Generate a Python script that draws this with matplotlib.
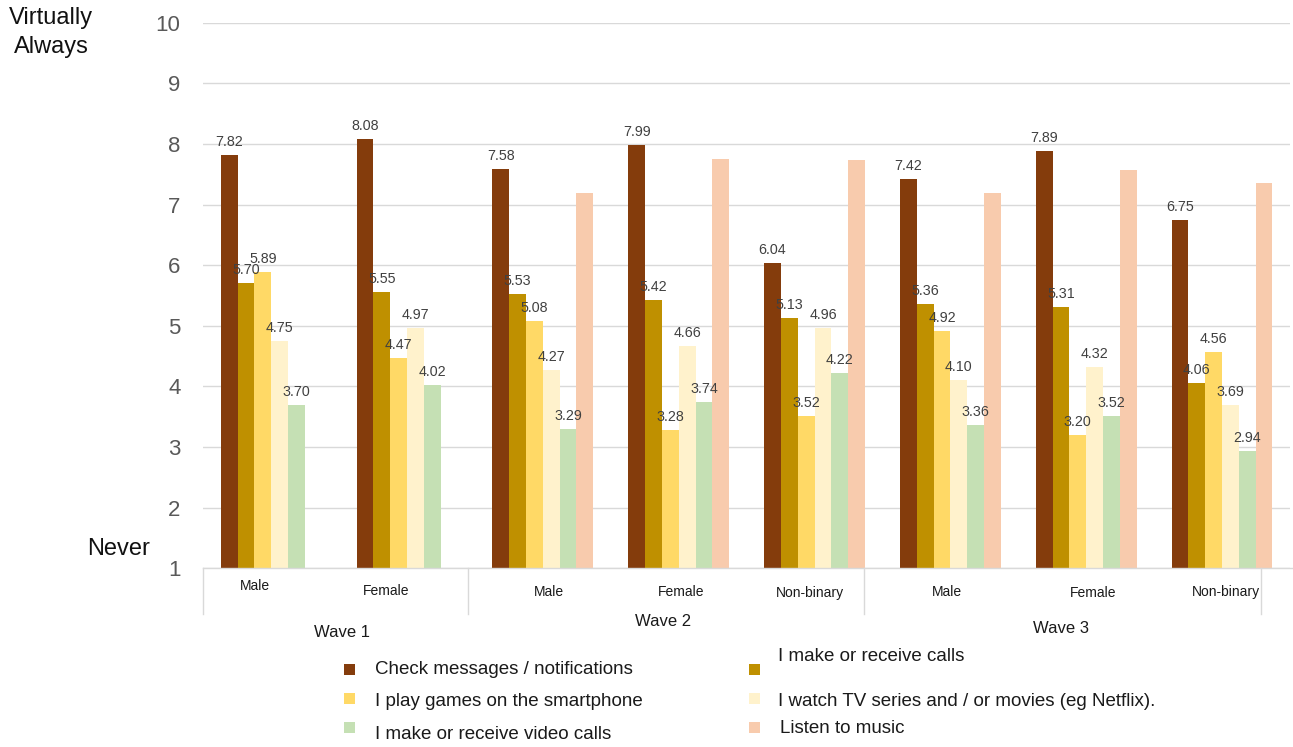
import numpy as np
import matplotlib
matplotlib.use('Agg')
import matplotlib.pyplot as plt
from matplotlib.patches import Rectangle
from matplotlib.lines import Line2D

plt.rcParams['font.family'] = ['Liberation Sans', 'DejaVu Sans']

# data
groups = ['Male', 'Female', 'Male', 'Female', 'Non-binary', 'Male', 'Female', 'Non-binary']
waves = ['Wave 1', 'Wave 2', 'Wave 3']
check_msgs = [7.82, 8.08, 7.58, 7.99, 6.04, 7.42, 7.89, 6.75]
calls = [5.70, 5.55, 5.53, 5.42, 5.13, 5.36, 5.31, 4.06]
games = [5.89, 4.47, 5.08, 3.28, 3.52, 4.92, 3.20, 4.56]
tv = [4.75, 4.97, 4.27, 4.66, 4.96, 4.10, 4.32, 3.69]
video_calls = [3.70, 4.02, 3.29, 3.74, 4.22, 3.36, 3.52, 2.94]
music = [np.nan, np.nan, 7.19, 7.75, 7.73, 7.19, 7.57, 7.36]

series_names = ['Check messages / notifications', 'I make or receive calls',
                'I play games on the smartphone', 'I watch TV series and / or movies (eg Netflix).',
                'I make or receive video calls', 'Listen to music']
series = [check_msgs, calls, games, tv, video_calls, music]
colors = ['#843C0C', '#BF9000', '#FFD966', '#FFF2CC', '#C5E0B4', '#F8CBAD']
show_labels = [True, True, True, True, True, False]

W, H = 1293, 747

def px(x, y):
  # pixel coords (top-left origin) -> figure fraction
  return x / W, 1 - y / H

fig = plt.figure(figsize=(W / 100, H / 100), dpi=100)
left, top = px(203.3, 22.7)
right, bottom = px(1290, 568.3)
ax = fig.add_axes([left, bottom, right - left, top - bottom])

x = np.arange(len(groups))
w = 0.1237
for j, (vals, c, lab) in enumerate(zip(series, colors, show_labels)):
  xs = x + (j - 2.5) * w
  vals = np.array(vals, dtype=float)
  ax.bar(xs, vals - 1, width=w, bottom=1, color=c, zorder=3)
  if lab:
    for xi, v in zip(xs, vals):
      if np.isnan(v):
        continue
      ax.annotate(f'{v:.2f}', (xi, v), xytext=(0, 6.5), textcoords='offset points',
                  ha='center', va='baseline', fontsize=10.3, color='#404040', zorder=4)

ax.set_xlim(-0.5, len(groups) - 0.5)
ax.set_ylim(1, 10)
ax.set_yticks(range(1, 11))
ax.set_xticks([])
ax.tick_params(axis='y', length=0, labelsize=16, labelcolor='#595959', pad=16.5)
ax.yaxis.grid(True, color='#D9D9D9', linewidth=1, zorder=0)
for s in ax.spines.values():
  s.set_visible(False)

# end labels of the scale
fig.text(*px(51, 18), 'Virtually', ha='center', va='center', fontsize=17, color='#111111')
fig.text(*px(51, 47), 'Always', ha='center', va='center', fontsize=17, color='#111111')
fig.text(*px(150, 549), 'Never', ha='right', va='center', fontsize=17, color='#111111')

# category table under the axis
line_c = '#D9D9D9'
fig.add_artist(Line2D([px(203.3, 0)[0], 1], [px(0, 568.3)[1]] * 2, color=line_c, lw=1))
for xv in [203.3, 468.3, 864.3, 1261]:
  fig.add_artist(Line2D([px(xv, 0)[0]] * 2, [px(0, 568.3)[1], px(0, 614)[1]], color=line_c, lw=1))

group_pos = [(254.7, 586), (386, 591), (548.5, 592.5), (681, 592), (809.6, 592.5),
             (946.7, 592.5), (1092.7, 593.3), (1225.7, 591.7)]
for g, (gx, gy) in zip(groups, group_pos):
  fig.text(*px(gx, gy), g, ha='center', va='center', fontsize=10, color='#1a1a1a')

wave_pos = [(341.8, 632.7), (663, 621), (1061, 628.3)]
for wv, (wx, wy) in zip(waves, wave_pos):
  fig.text(*px(wx, wy), wv, ha='center', va='center', fontsize=12, color='#1a1a1a')

# legend, drawn by hand to follow the reference layout
marker_pos = [(349, 669), (754, 669), (349, 698), (754, 698), (349, 727), (754, 727)]
text_pos = [(374.5, 669.3), (777.6, 656.7), (374.5, 701), (777.6, 701), (374.5, 734.3), (780, 728.3)]
ms = 11
for name, c, (mx, my), (tx, ty) in zip(series_names, colors, marker_pos, text_pos):
  fx, fy = px(mx - ms / 2, my + ms / 2)
  fig.add_artist(Rectangle((fx, fy), ms / W, ms / H, transform=fig.transFigure,
                           facecolor=c, edgecolor='none'))
  fig.text(*px(tx, ty), name, ha='left', va='center', fontsize=13.5, color='#1a1a1a')

fig.savefig('out.png', dpi=100)
